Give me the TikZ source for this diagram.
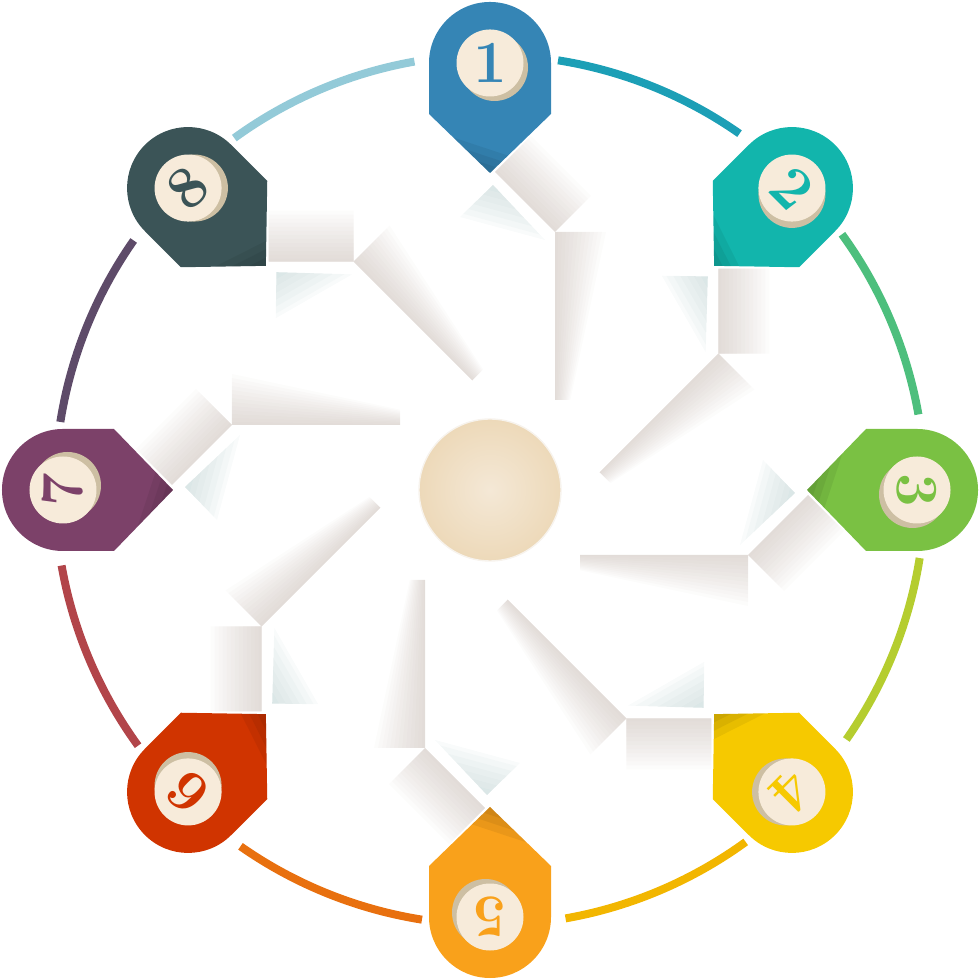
\documentclass[tikz,border=0pt]{standalone}

\definecolor{pinone}{HTML}{3585B5}
\definecolor{pintwo}{HTML}{12B5AC}
\definecolor{pinthree}{HTML}{7AC143}
\definecolor{pinfour}{HTML}{F6C900}
\definecolor{pinfive}{HTML}{F9A11B}
\definecolor{pinsix}{HTML}{D03400}
\definecolor{pinseven}{HTML}{7C4169}
\definecolor{pineight}{HTML}{3B5457}
\definecolor{arcone}{HTML}{1C9FB6}
\definecolor{arctwo}{HTML}{4DBF7D}
\definecolor{arcthree}{HTML}{B5CD2F}
\definecolor{arcfour}{HTML}{F2B600}
\definecolor{arcfive}{HTML}{E8700F}
\definecolor{arcsix}{HTML}{B2454A}
\definecolor{arcseven}{HTML}{5E4B69}
\definecolor{arceight}{HTML}{93CAD8}
\definecolor{badgefill}{HTML}{F7EBDA}
\definecolor{badgeedge}{HTML}{CDBFA3}
\definecolor{foldgray}{HTML}{B8A89F}
\definecolor{notchgray}{HTML}{A6C2C2}
\definecolor{hubin}{HTML}{F4E8D6}
\definecolor{hubout}{HTML}{EDD9B9}

\tikzset{
  ring/.style={line width=0.8mm},
  fold/.style={fill=foldgray, opacity=0.04},
  notch/.style={fill=notchgray, opacity=0.07},
  tipdark/.style={fill=black, opacity=0.06},
  num/.style={font=\fontsize{17}{17}\selectfont\bfseries, inner sep=0pt},
  hub/.style={circle, minimum size=1.42cm, inner sep=0pt, draw=hubout!90!black!20,
    inner color=hubin, outer color=hubout},
}

\begin{document}
\begin{tikzpicture}
    \useasboundingbox (-4.9,-4.9) rectangle (4.9,4.9);

    % paper blades, only their shadows show
    \foreach \k in {0,...,7} {
      \begin{scope}[rotate=-45*\k]
        \foreach \w in {0.03,0.07,...,0.55} {
          \fill[fold] (0.05,3.18) -- (0.65,2.58) -- ({0.65+0.707*\w},{2.58+0.707*\w})
            -- ({0.05+0.707*\w},{3.18+0.707*\w}) -- cycle;
          \fill[fold] (0.65,2.58) -- ({0.65+\w},2.58) -- ({0.65+0.3*\w},0.9) -- (0.65,0.9) -- cycle;
        }
        \foreach \f in {0.15,0.3,0.45,0.6,0.75,0.9,1} {
          \fill[notch] (0.03,3.05) -- ({0.03-0.33*\f},{3.05-0.32*\f}) -- ({0.03+0.52*\f},{3.05-0.55*\f}) -- cycle;
        }
      \end{scope}
    }

    \node[hub] (hub) at (0,0) {};

    % ring between the pins
    \foreach \k/\col in {0/arcone, 1/arctwo, 2/arcthree, 3/arcfour,
                         4/arcfive, 5/arcsix, 6/arcseven, 7/arceight} {
      \draw[ring, \col] ({90-45*\k-9}:4.35)
        arc[start angle={90-45*\k-9}, end angle={90-45*\k-35}, radius=4.35];
    }

    % pins
    \foreach \k/\n/\col in {0/1/pinone, 1/2/pintwo, 2/3/pinthree, 3/4/pinfour,
                            4/5/pinfive, 5/6/pinsix, 6/7/pinseven, 7/8/pineight} {
      \begin{scope}[rotate=-45*\k]
        \fill[\col] (-0.61,4.27) arc[start angle=180, end angle=0, radius=0.61]
          -- (0.61,3.76) -- (0,3.17) -- (-0.61,3.76) -- cycle;
        \foreach \f in {0.2,0.4,0.6} {
          \fill[tipdark] (0,3.17) -- ({-0.61*\f},{3.17+0.59*\f}) -- ({0.3*\f},{3.17+0.29*\f}) -- cycle;
        }
        \fill[badgeedge] (0.045,4.225) circle (0.335);
        \fill[badgefill] (0,4.27) circle (0.335);
        \node[num, text=\col, rotate=-45*\k] (n\n) at (0,4.27) {\n};
      \end{scope}
    }
\end{tikzpicture}
\end{document}
